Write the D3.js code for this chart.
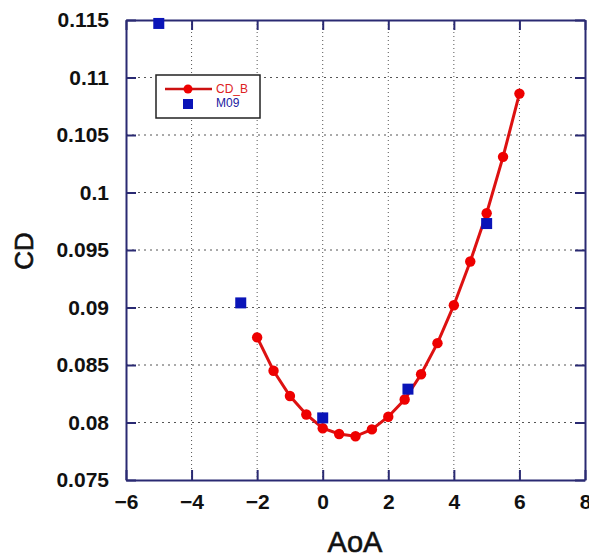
<!DOCTYPE html>
<html><head><meta charset="utf-8">
<script src="https://cdn.jsdelivr.net/npm/d3@7"></script>
<style>body{margin:0;background:#fff;}svg{display:block;}</style>
</head><body>
<script>
const cdbAoA = [-2,-1.5,-1,-0.5,0,0.5,1,1.5,2,2.5,3,3.5,4,4.5,5,5.5,6];
const cdbCD  = [0.0874,0.0845,0.0823,0.0807,0.0795,0.0790,0.0788,0.0794,0.0805,0.0820,0.0842,0.0869,0.0902,0.0940,0.0982,0.1031,0.1086];
const m09AoA = [-5,-2.5,0,2.6,5];
const m09CD  = [0.1147,0.0904,0.0804,0.0829,0.0973];
const xTicks = [-6,-4,-2,0,2,4,6,8];
const yTicks = [0.075,0.08,0.085,0.09,0.095,0.1,0.105,0.11,0.115];
const seriesNames = ["CD_B","M09"];

const W=589,H=558;
const L=126,R=585,T=20,B=480;
const svg=d3.select("body").append("svg").attr("width",W).attr("height",H);
const x=d3.scaleLinear().domain([-6,8]).range([L,R]);
const y=d3.scaleLinear().domain([0.075,0.115]).range([B,T]);
const frame="#2a2a72";

// grid
const g=svg.append("g");
g.selectAll(".vg").data(xTicks.slice(1,-1)).join("line")
 .attr("x1",d=>x(d)).attr("x2",d=>x(d)).attr("y1",T).attr("y2",B)
 .attr("stroke","#555").attr("stroke-width",1).attr("stroke-dasharray","1,3");
g.selectAll(".hg").data(yTicks.slice(1,-1)).join("line")
 .attr("x1",L).attr("x2",R).attr("y1",d=>y(d)).attr("y2",d=>y(d))
 .attr("stroke","#555").attr("stroke-width",1).attr("stroke-dasharray","2,4");

// axes with inward ticks
const fmtY=d=>d3.format("")(+d.toFixed(3));
const ax=svg.append("g").attr("transform",`translate(0,${B})`)
 .call(d3.axisBottom(x).tickValues(xTicks).tickSizeInner(-10).tickSizeOuter(0).tickPadding(14).tickFormat(d=>String(d).replace("-","\u2212")));
const ay=svg.append("g").attr("transform",`translate(${L},0)`)
 .call(d3.axisLeft(y).tickValues(yTicks).tickSizeInner(-10).tickSizeOuter(0).tickPadding(17).tickFormat(fmtY));
const at=svg.append("g").attr("transform",`translate(0,${T})`)
 .call(d3.axisTop(x).tickValues(xTicks).tickSizeInner(-10).tickSizeOuter(0).tickFormat(""));
const ar=svg.append("g").attr("transform",`translate(${R},0)`)
 .call(d3.axisRight(y).tickValues(yTicks).tickSizeInner(-10).tickSizeOuter(0).tickFormat(""));
[ax,ay,at,ar].forEach(a=>{
  a.selectAll("path").attr("stroke",frame).attr("stroke-width",2);
  a.selectAll("line").attr("stroke",frame).attr("stroke-width",2);
  a.selectAll("text").attr("fill","#111").attr("font-family","Liberation Sans, Arial, sans-serif")
   .attr("font-weight","bold").attr("font-size",21);
});
ax.selectAll("text").attr("dy","0.71em");

// CD_B line
const pts=cdbAoA.map((a,i)=>[a,cdbCD[i]]);
svg.append("path").datum(pts).attr("fill","none").attr("stroke","#dd1111").attr("stroke-width",3)
 .attr("d",d3.line().x(d=>x(d[0])).y(d=>y(d[1])));
svg.selectAll(".cdb").data(pts).join("circle").attr("cx",d=>x(d[0])).attr("cy",d=>y(d[1]))
 .attr("r",5.2).attr("fill","#ee0000");
// M09
const mp=m09AoA.map((a,i)=>[a,m09CD[i]]);
svg.selectAll(".m09").data(mp).join("rect").attr("x",d=>x(d[0])-5.5).attr("y",d=>y(d[1])-5.5)
 .attr("width",11).attr("height",11).attr("fill","#0a14b8");

// legend
const lg=svg.append("g");
lg.append("rect").attr("x",156).attr("y",75).attr("width",104).attr("height",43)
 .attr("fill","#fff").attr("stroke","#222").attr("stroke-width",1.5);
lg.append("line").attr("x1",165).attr("x2",212).attr("y1",89).attr("y2",89).attr("stroke","#cc1111").attr("stroke-width",2.5);
lg.append("circle").attr("cx",188).attr("cy",89).attr("r",4.5).attr("fill","#ee0000");
lg.append("rect").attr("x",183).attr("y",99).attr("width",10).attr("height",10).attr("fill","#0a14b8");
lg.append("text").attr("x",216).attr("y",93).text(seriesNames[0]).attr("fill","#dd2222")
 .attr("font-family","Liberation Sans, Arial, sans-serif").attr("font-size",12);
lg.append("text").attr("x",216).attr("y",107).text(seriesNames[1]).attr("fill","#1a1aa0")
 .attr("font-family","Liberation Sans, Arial, sans-serif").attr("font-size",12);

// axis titles
svg.append("text").attr("x",355).attr("y",552).attr("text-anchor","middle").text("AoA")
 .attr("font-family","Liberation Sans, Arial, sans-serif").attr("font-size",29).attr("fill","#111")
 .attr("stroke","#111").attr("stroke-width",0.6);
svg.append("text").attr("transform","translate(33,251) rotate(-90)").attr("text-anchor","middle").text("CD")
 .attr("font-family","Liberation Sans, Arial, sans-serif").attr("font-size",26).attr("fill","#111")
 .attr("stroke","#111").attr("stroke-width",0.6);
</script>
</body></html>
